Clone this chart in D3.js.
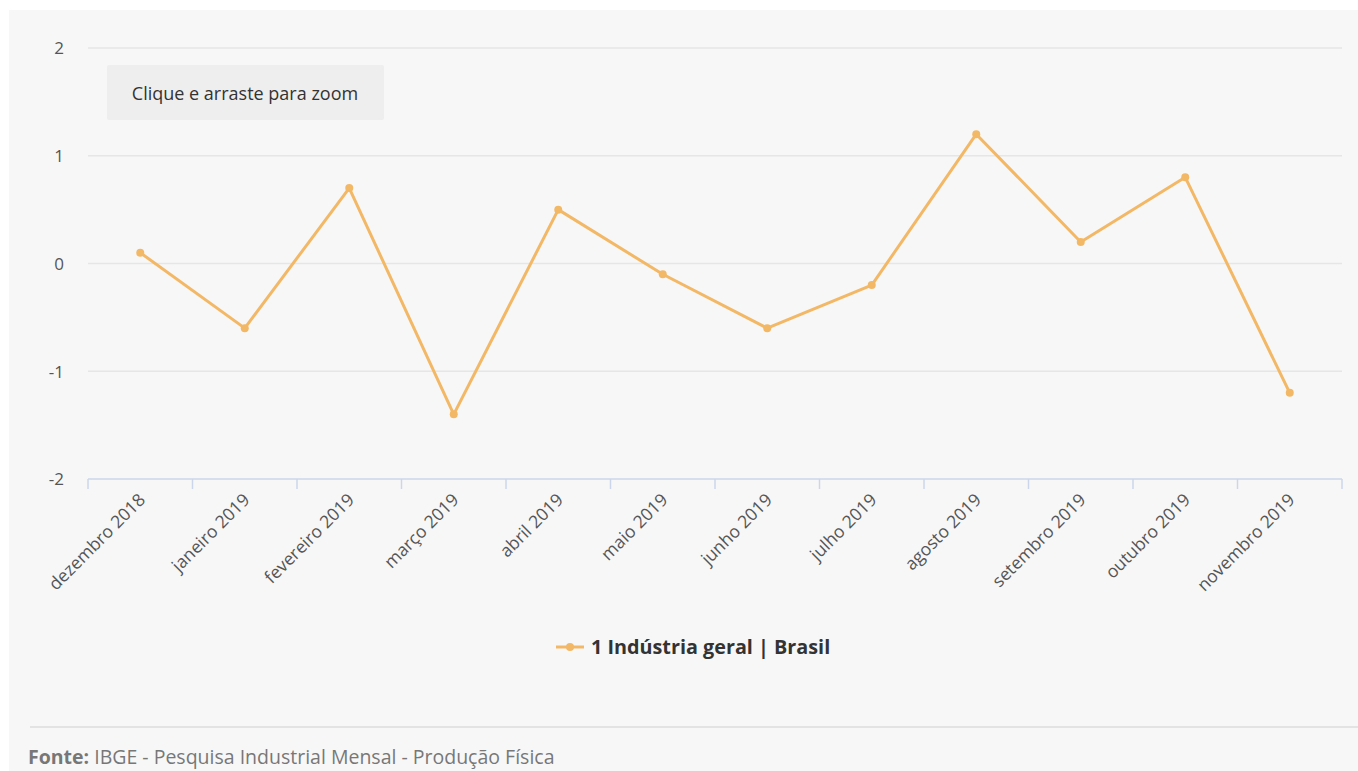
<!DOCTYPE html>
<html>
<head>
<meta charset="utf-8">
<script src="https://cdn.jsdelivr.net/npm/d3@7"></script>
<style>
  html, body { margin: 0; padding: 0; background: #fff; }
  svg { display: block; font-family: "Open Sans", sans-serif; }
</style>
</head>
<body>
<div id="chart"></div>
<script>
// categorias (meses) e valores da série
const months = ['dezembro 2018', 'janeiro 2019', 'fevereiro 2019', 'março 2019', 'abril 2019', 'maio 2019',
  'junho 2019', 'julho 2019', 'agosto 2019', 'setembro 2019', 'outubro 2019', 'novembro 2019'];
const values = [0.1, -0.6, 0.7, -1.4, 0.5, -0.1, -0.6, -0.2, 1.2, 0.2, 0.8, -1.2];
const yTicks = [-2, -1, 0, 1, 2];
const seriesName = '1 Indústria geral | Brasil';

const W = 1358, H = 771;
const plot = { left: 88, right: 1342, top: 48, bottom: 479 };
const color = '#f3b866';

const svg = d3.select('#chart').append('svg').attr('width', W).attr('height', H);

// fundo cinza
svg.append('rect').attr('x', 9).attr('y', 10).attr('width', W - 9).attr('height', H - 10).attr('fill', '#f7f7f7');

const x = d3.scaleBand().domain(months).range([plot.left, plot.right]);
const y = d3.scaleLinear().domain([-2, 2]).range([plot.bottom, plot.top]);

// linhas de grade
svg.append('g')
  .selectAll('line').data(yTicks.filter(d => d !== -2)).join('line')
  .attr('x1', plot.left).attr('x2', plot.right)
  .attr('y1', d => y(d)).attr('y2', d => y(d))
  .attr('stroke', '#e6e6e6').attr('stroke-width', 1.5);

// eixo y (hífen simples no sinal negativo)
const yAxis = svg.append('g').attr('transform', `translate(${plot.left},0)`)
  .call(d3.axisLeft(y).tickValues(yTicks).tickSize(0).tickPadding(24).tickFormat(d => String(d)));
yAxis.select('.domain').remove();
yAxis.selectAll('text').attr('fill', '#555').style('font-size', '17px').style('font-family', '"Open Sans", sans-serif')
  .attr('dy', '0.35em');

// eixo x
const xAxis = svg.append('g').attr('transform', `translate(0,${plot.bottom})`)
  .call(d3.axisBottom(x).tickSize(0).tickFormat(''));
xAxis.select('.domain').attr('stroke', '#ccd6eb').attr('stroke-width', 1.5).attr('d', `M${plot.left},0H${plot.right}`);
const edges = months.map(m => x(m)).concat([plot.right]);
xAxis.selectAll('.edge').data(edges).join('line').attr('class', 'edge')
  .attr('x1', d => d).attr('x2', d => d).attr('y1', 0).attr('y2', 10)
  .attr('stroke', '#ccd6eb').attr('stroke-width', 1.5);

svg.append('g').selectAll('text').data(months).join('text')
  .attr('transform', d => `translate(${x(d) + x.bandwidth() / 2 + 6},${plot.bottom + 22}) rotate(-45)`)
  .attr('text-anchor', 'end')
  .attr('fill', '#555')
  .style('font-size', '17.5px')
  .text(d => d);

// linha da série
const line = d3.line()
  .x((d, i) => x(months[i]) + x.bandwidth() / 2)
  .y(d => y(d));
svg.append('path').datum(values)
  .attr('d', line).attr('fill', 'none').attr('stroke', color).attr('stroke-width', 3)
  .attr('stroke-linejoin', 'round');
svg.append('g').selectAll('circle').data(values).join('circle')
  .attr('cx', (d, i) => x(months[i]) + x.bandwidth() / 2)
  .attr('cy', d => y(d))
  .attr('r', 4).attr('fill', color);

// botão de zoom
svg.append('rect').attr('x', 107).attr('y', 65).attr('width', 277).attr('height', 55).attr('rx', 2).attr('fill', '#eeeeee');
svg.append('text').attr('x', 245).attr('y', 100).attr('text-anchor', 'middle')
  .attr('fill', '#333').style('font-size', '18px').text('Clique e arraste para zoom');

// legenda
const lg = svg.append('g').attr('transform', 'translate(556,647)');
lg.append('line').attr('x1', 0).attr('x2', 28).attr('stroke', color).attr('stroke-width', 3);
lg.append('circle').attr('cx', 14).attr('r', 4).attr('fill', color);
lg.append('text').attr('x', 35).attr('y', 7).attr('fill', '#333')
  .style('font-size', '19.8px').style('font-weight', 'bold').text(seriesName);

// rodapé
svg.append('line').attr('x1', 30).attr('x2', W).attr('y1', 727).attr('y2', 727).attr('stroke', '#dddddd').attr('stroke-width', 1.5);
const ft = svg.append('text').attr('x', 28).attr('y', 764).attr('fill', '#777').style('font-size', '19.5px');
ft.append('tspan').style('font-weight', 'bold').text('Fonte:');
ft.append('tspan').text(' IBGE - Pesquisa Industrial Mensal - Produção Física');
</script>
</body>
</html>
